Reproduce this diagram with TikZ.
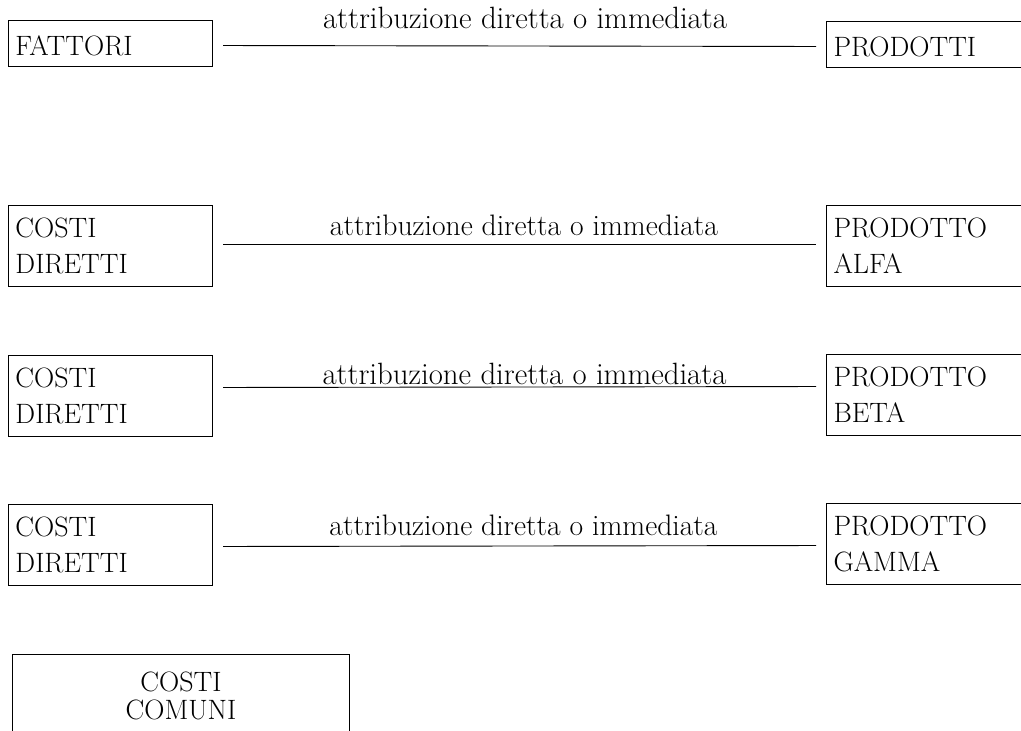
\documentclass[tikz,border=0pt]{standalone}
\usepackage{fontspec}
\begin{document}
\begin{tikzpicture}[x=1pt,y=-1pt]
\tikzset{
  heavy/.style={font=\fontsize{#1}{36}\selectfont\addfontfeatures{FakeBold=0.5}},
  boxl/.style={draw, line width=1pt, inner xsep=7pt, inner ysep=0pt, anchor=north west,
    align=left, text width=190pt, font=\fontsize{28}{36}\selectfont\addfontfeatures{FakeBold=0.5}},
  boxr/.style={boxl, text width=196pt},
  one/.style={minimum height=46pt, text height=25pt},
  two/.style={minimum height=81pt},
  conn/.style={line width=0.9pt, shorten <=10pt, shorten >=10pt},
  lab/.style={anchor=base, inner sep=0pt, heavy=#1},
  lab/.default=30.5
}
\clip (0,0) rectangle (1021,731);
\useasboundingbox (0,0) rectangle (1021,731);

% row 1
\node[boxl,one] (f) at (8,20) {FATTORI};
\node[boxr,one] (p) at (826,21) {PRODOTTI};
\draw[conn] ([yshift=-2pt]f.east) -- ([yshift=-2pt]p.west);
\node[lab=30.8] (t1) at (525,28) {attribuzione diretta o immediata};

% row 2
\node[boxl,two] (d2) at (8,205) {COSTI\\DIRETTI};
\node[boxr,two] (p2) at (826,205) {PRODOTTO\\ALFA};
\draw[conn] ([yshift=1.5pt]d2.east) -- ([yshift=1.5pt]p2.west);
\node[lab=29.6] (t2) at (524,235) {attribuzione diretta o immediata};

% row 3
\node[boxl,two] (d3) at (8,355) {COSTI\\DIRETTI};
\node[boxr,two] (p3) at (826,354) {PRODOTTO\\BETA};
\draw[conn] ([yshift=8.5pt]d3.east) -- ([yshift=8.5pt]p3.west);
\node[lab=30.8] (t3) at (524.5,384) {attribuzione diretta o immediata};

% row 4
\node[boxl,two] (d4) at (8,504) {COSTI\\DIRETTI};
\node[boxr,two] (p4) at (826,503) {PRODOTTO\\GAMMA};
\draw[conn] ([yshift=-1.5pt]d4.east) -- ([yshift=-1.5pt]p4.west);
\node[lab=29.6] (t4) at (523.5,535) {attribuzione diretta o immediata};

% bottom
\node[draw, line width=1pt, anchor=north west, text width=323pt, inner xsep=7pt,
  inner ysep=17pt, align=center, text depth=50pt,
  font=\fontsize{28}{28}\selectfont\addfontfeatures{FakeBold=0.5}]
  (cc) at (12,654) {COSTI\\COMUNI};
\end{tikzpicture}
\end{document}
